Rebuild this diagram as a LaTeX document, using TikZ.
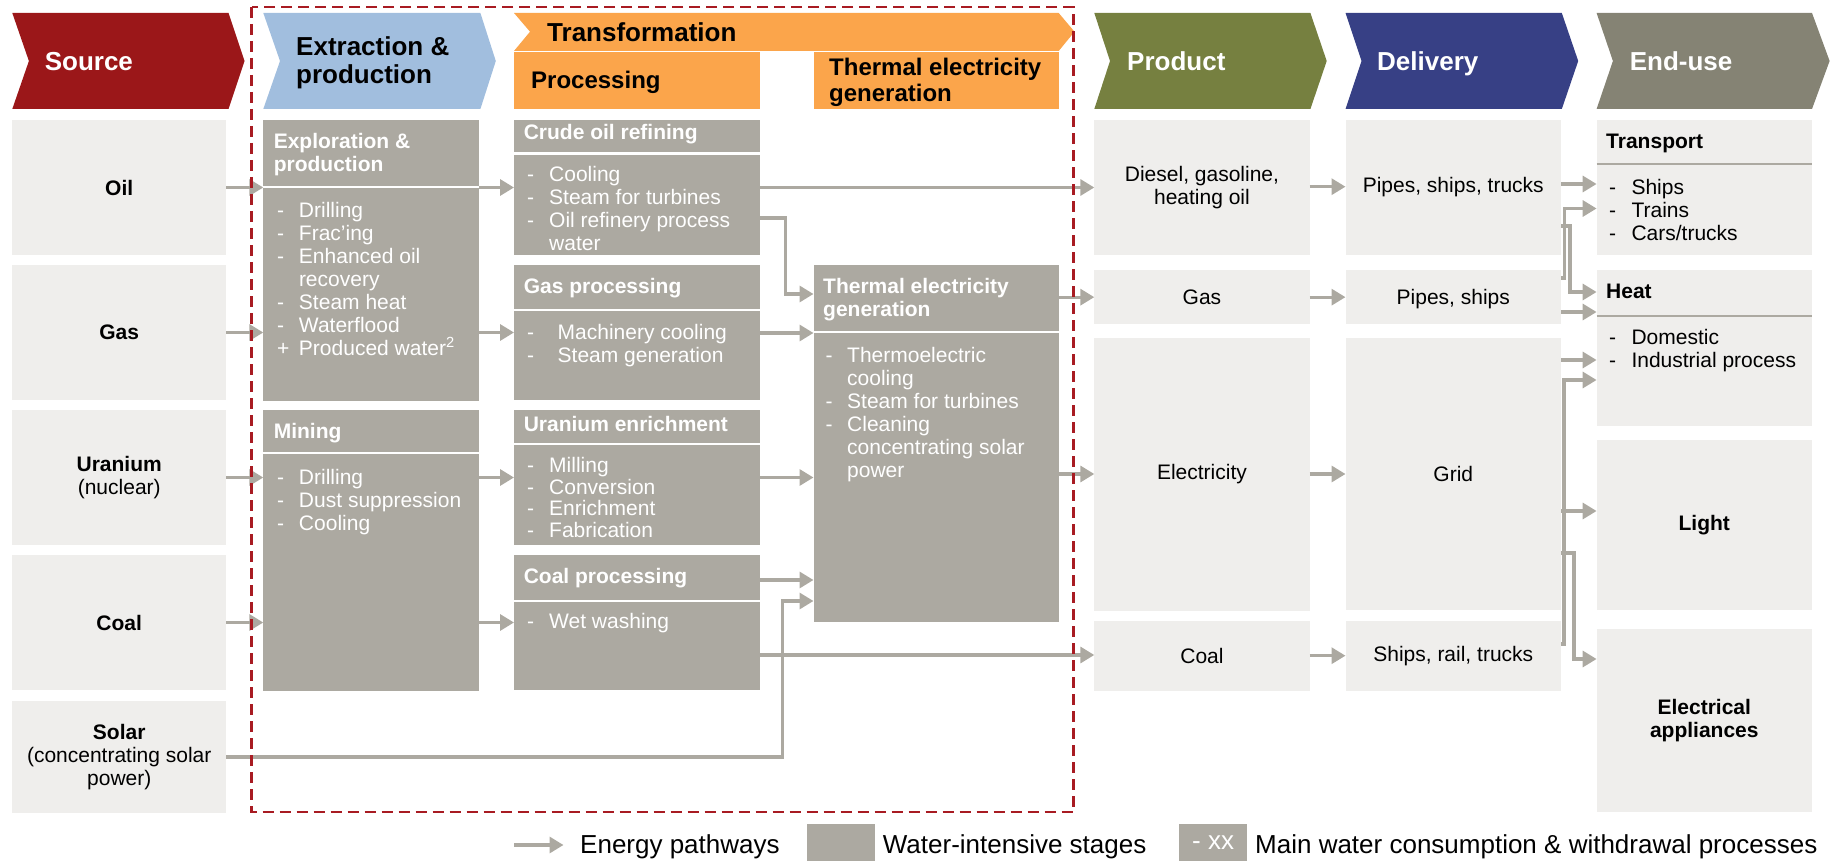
\documentclass[tikz,border=0pt]{standalone}
\usepackage{fontspec}
\setmainfont{Liberation Sans}
\usetikzlibrary{arrows.meta}
\definecolor{srcred}{HTML}{9B1719}
\definecolor{extblue}{HTML}{A1BEDE}
\definecolor{trorange}{HTML}{FBA54B}
\definecolor{olive}{HTML}{768040}
\definecolor{navy}{HTML}{374085}
\definecolor{eugray}{HTML}{858374}
\definecolor{graybox}{HTML}{ACA9A1}
\definecolor{lightbg}{HTML}{EFEEEC}
\definecolor{arrgray}{HTML}{ACA9A1}
\definecolor{dashred}{HTML}{A81B22}
\newcommand\fbody{\fontsize{21}{23}\selectfont}
\newcommand\fhead{\fontsize{26}{28}\selectfont}
\newcommand\fsub{\fontsize{24}{26}\selectfont}
\newcommand\fleg{\fontsize{26}{28}\selectfont}
\newcommand\itm[2][22]{\makebox[#1pt][l]{-}#2}
\newcommand\cnt[2][22]{\hspace*{#1pt}#2}
\newcommand\pls[2][22]{\makebox[#1pt][l]{+}#2}
\begin{document}
\begin{tikzpicture}[x=1pt,y=-1pt,
  lbox/.style={fill=lightbg, anchor=north west, inner sep=0, outer sep=0, align=center, font=\fbody, text=black},
  gbox/.style={fill=graybox, anchor=north west, inner sep=0, outer sep=0},
  gtitle/.style={anchor=west, inner sep=0, align=left, text=white, font=\fbody\bfseries},
  glist/.style={anchor=north west, inner sep=0, align=left, text=white, font=\fbody},
  blist/.style={glist, text=black},
  btitle/.style={gtitle, text=black},
  htitle/.style={anchor=west, inner sep=0, align=left, font=\fhead\bfseries},
  wtitle/.style={anchor=base west, inner sep=0, font=\fhead\bfseries, text=white},
  arr/.style={draw=arrgray, line width=3.3pt, -{Triangle[length=14pt,width=16pt]}},
  wdiv/.style={draw=white, line width=2.5pt},
  gdiv/.style={draw=graybox, line width=2.5pt},
  legtext/.style={anchor=west, inner sep=0, font=\fleg},
]
\useasboundingbox (0,0) rectangle (1841,861);
% ---------- chevrons ----------
\fill[srcred] (12.3,13) -- (228.5,13) -- (244.5,61) -- (228.5,109) -- (12.3,109) -- (28.9,61) -- cycle;
\fill[extblue] (263.3,13) -- (480.4,13) -- (495.8,61) -- (480.4,109) -- (263.3,109) -- (280,61) -- cycle;
\fill[trorange] (514,13) -- (1058.7,13) -- (1074.5,31.7) -- (1058.7,51) -- (514,51) -- (530,31.7) -- cycle;
\fill[trorange] (514,52) rectangle (760,109);
\fill[trorange] (813.5,52) rectangle (1058.7,109);
\fill[olive] (1094.3,13) -- (1310.4,13) -- (1326.7,61) -- (1310.4,109) -- (1094.3,109) -- (1110,61) -- cycle;
\fill[navy] (1345.5,13) -- (1561.8,13) -- (1578.2,61) -- (1561.8,109) -- (1345.5,109) -- (1361.5,61) -- cycle;
\fill[eugray] (1596.6,13) -- (1812,13) -- (1829.6,61) -- (1812,109) -- (1596.6,109) -- (1612.9,61) -- cycle;
\node[wtitle] (hsrc) at (44.6,70.5) {Source};
\node[htitle, text=black] (hext) at (296,63) {Extraction \&\\production};
\node[htitle, text=black] (htrans) at (547,32) {Transformation};
\node[htitle, text=black, font=\fsub\bfseries] (hproc) at (531,82) {Processing};
\node[htitle, text=black, font=\fsub\bfseries] (hthermo) at (829,82.5) {Thermal electricity\\generation};
\node[wtitle] (hprod) at (1127,70.5) {Product};
\node[wtitle] (hdel) at (1377,70.5) {Delivery};
\node[wtitle] (hend) at (1629.6,70.5) {End-use};
% ---------- source column ----------
\node[lbox, minimum width=213.9, minimum height=135] (oil) at (12.3,120) {\textbf{Oil}};
\node[lbox, minimum width=213.9, minimum height=135] (gas) at (12.3,265) {\textbf{Gas}};
\node[lbox, minimum width=213.9, minimum height=135] (uran) at (12.3,410) {\textbf{Uranium}\\(nuclear)};
\node[lbox, minimum width=213.9, minimum height=135] (coalsrc) at (12.3,555) {\textbf{Coal}};
\node[lbox, minimum width=213.9, minimum height=112] (solar) at (12.3,701) {\textbf{Solar}\\(concentrating solar\\power)};
% ---------- extraction column ----------
\node[gbox, minimum width=215.5, minimum height=281] (expl) at (263.3,120) {};
\node[gbox, minimum width=215.5, minimum height=280.7] (mining) at (263.3,410) {};
\draw[wdiv] (expl.west |- 0,187) -- (expl.east |- 0,187);
\draw[wdiv] (mining.west |- 0,453) -- (mining.east |- 0,453);
\node[gtitle] (explt) at (273.6,155) {Exploration \&\\production};
\node[glist] (expll) at (276.8,202) {\itm{Drilling}\\\itm{Frac’ing}\\\itm{Enhanced oil}\\\cnt{recovery}\\\itm{Steam heat}\\\itm{Waterflood}\\\pls{Produced water\textsuperscript{2}}};
\node[gtitle] (miningt) at (273.6,433.5) {Mining};
\node[glist] (miningl) at (276.8,469) {\itm{Drilling}\\\itm{Dust suppression}\\\itm{Cooling}};
% ---------- processing column ----------
\node[gbox, minimum width=246, minimum height=135] (crude) at (514,120) {};
\node[gbox, minimum width=246, minimum height=135] (gasproc) at (514,265) {};
\node[gbox, minimum width=246, minimum height=135] (uenr) at (514,410) {};
\node[gbox, minimum width=246, minimum height=135] (coalproc) at (514,555) {};
\draw[wdiv] (crude.west |- 0,153.5) -- (crude.east |- 0,153.5);
\draw[wdiv] (gasproc.west |- 0,310) -- (gasproc.east |- 0,310);
\draw[wdiv] (uenr.west |- 0,444) -- (uenr.east |- 0,444);
\draw[wdiv] (coalproc.west |- 0,601) -- (coalproc.east |- 0,601);
\node[gtitle] (crudet) at (523.6,134) {Crude oil refining};
\node[glist] (crudel) at (527,166) {\itm{Cooling}\\\itm{Steam for turbines}\\\itm{Oil refinery process}\\\cnt{water}};
\node[gtitle] (gasproct) at (523.6,287.8) {Gas processing};
\node[glist] (gasprocl) at (527,324) {\itm[30.5]{Machinery cooling}\\\itm[30.5]{Steam generation}};
\node[gtitle] (uenrt) at (523.6,423.5) {Uranium enrichment};
\node[glist, font=\fontsize{21}{21.6}\selectfont] (uenrl) at (527,457) {\itm{Milling}\\\itm{Conversion}\\\itm{Enrichment}\\\itm{Fabrication}};
\node[gtitle] (coalproct) at (523.6,577.8) {Coal processing};
\node[glist] (coalprocl) at (527,613) {\itm{Wet washing}};
% ---------- thermal ----------
\node[gbox, minimum width=245.2, minimum height=356.7] (thermal) at (813.5,265) {};
\draw[wdiv] (thermal.west |- 0,332) -- (thermal.east |- 0,332);
\node[gtitle] (thermalt) at (823,299.5) {Thermal electricity\\generation};
\node[glist] (thermall) at (825.4,347) {\itm[21.6]{Thermoelectric}\\\cnt[21.6]{cooling}\\\itm[21.6]{Steam for turbines}\\\itm[21.6]{Cleaning}\\\cnt[21.6]{concentrating solar}\\\cnt[21.6]{power}};
% ---------- product ----------
\node[lbox, minimum width=215.3, minimum height=135] (diesel) at (1094.3,120) {Diesel, gasoline,\\heating oil};
\node[lbox, minimum width=215.3, minimum height=54.3] (gasprod) at (1094.3,270) {Gas};
\node[lbox, minimum width=215.3, minimum height=272.7] (elec) at (1094.3,338) {Electricity};
\node[lbox, minimum width=215.3, minimum height=69.7] (coalprod) at (1094.3,621) {Coal};
% ---------- delivery ----------
\node[lbox, minimum width=215.5, minimum height=135] (pst) at (1345.5,120) {Pipes, ships, trucks};
\node[lbox, minimum width=215.5, minimum height=54.3, text depth=0pt] (ps) at (1345.5,270) {Pipes, ships};
\node[lbox, minimum width=215.5, minimum height=272.3] (grid) at (1345.5,338) {Grid};
\node[lbox, minimum width=215.5, minimum height=70] (srt) at (1345.5,621) {Ships, rail, trucks};
% ---------- end-use ----------
\node[lbox, minimum width=215.4, minimum height=135] (transport) at (1596.6,120) {};
\node[lbox, minimum width=215.4, minimum height=155.7] (heat) at (1596.6,270) {};
\node[lbox, minimum width=215.4, minimum height=170] (light) at (1596.6,440) {\textbf{Light}};
\node[lbox, minimum width=215.4, minimum height=182.7] (app) at (1596.6,629) {\textbf{Electrical}\\\textbf{appliances}};
\draw[gdiv] (transport.west |- 0,164) -- (transport.east |- 0,164);
\draw[gdiv] (heat.west |- 0,316) -- (heat.east |- 0,316);
\node[btitle] (transportt) at (1606,143) {Transport};
\node[blist] (transportl) at (1608.8,179) {\itm[22.5]{Ships}\\\itm[22.5]{Trains}\\\itm[22.5]{Cars/trucks}};
\node[btitle] (heatt) at (1606,291.5) {Heat};
\node[blist] (heatl) at (1608.8,329) {\itm[22.5]{Domestic}\\\itm[22.5]{Industrial process}};
% ---------- connectors ----------
\draw[arr] (oil.east) -- (expl.west |- oil.east);
\draw[arr] (gas.east) -- (expl.west |- gas.east);
\draw[arr] (uran.east) -- (mining.west |- uran.east);
\draw[arr] (coalsrc.east) -- (mining.west |- coalsrc.east);
\draw[arr] (expl.east |- oil.east) -- (crude.west |- oil.east);
\draw[arr] (expl.east |- gas.east) -- (gasproc.west |- gas.east);
\draw[arr] (mining.east |- uran.east) -- (uenr.west |- uran.east);
\draw[arr] (mining.east |- coalsrc.east) -- (coalproc.west |- coalsrc.east);
\draw[arr] (crude.east |- oil.east) -- (diesel.west |- oil.east);
\draw[arr] (crude.east |- 0,218) -- ++(25.8,0) |- (thermal.west |- 0,294);
\draw[arr] (gasproc.east |- 0,333) -- (thermal.west |- 0,333);
\draw[arr] (uenr.east |- 0,477.5) -- (thermal.west |- 0,477.5);
\draw[arr] (coalproc.east |- 0,580) -- (thermal.west |- 0,580);
\draw[arr] (coalproc.east |- 0,655) -- (coalprod.west |- 0,655);
\draw[arr] (solar.east) -- ++(556.5,0) |- (thermal.west |- 0,601);
\draw[arr] (thermal.east |- gasprod.west) -- (gasprod.west);
\draw[arr] (thermal.east |- 0,474) -- (elec.west |- 0,474);
\draw[arr] (diesel.east |- 0,186.7) -- (pst.west |- 0,186.7);
\draw[arr] (gasprod.east) -- (ps.west |- gasprod.east);
\draw[arr] (elec.east |- 0,474) -- (grid.west |- 0,474);
\draw[arr] (coalprod.east |- 0,655.7) -- (srt.west |- 0,655.7);
\draw[arr] (pst.east |- 0,184) -- (transport.west |- 0,184);
\draw[arr] (ps.east |- 0,278) -- ++(3.5,0) |- (transport.west |- 0,208.5);
\draw[arr] (pst.east |- 0,226) -- ++(9,0) |- (heat.west |- 0,292);
\draw[arr] (ps.east |- 0,312) -- (heat.west |- 0,312);
\draw[arr] (grid.east |- 0,360) -- (heat.west |- 0,360);
\draw[arr] (srt.east |- 0,644) -- ++(3,0) |- (heat.west |- 0,380);
\draw[arr] (grid.east |- 0,511) -- (light.west |- 0,511);
\draw[arr] (grid.east |- 0,553) -- ++(13,0) |- (app.west |- 0,659);
% ---------- dashed frame ----------
\draw[draw=dashred, line width=2.8pt, dash pattern=on 11pt off 6pt] (251.5,7) rectangle (1073.3,812);
% ---------- legend ----------
\coordinate (la1) at (514,845);
\coordinate (la2) at (563.5,845);
\draw[arr] (la1) -- (la2);
\node[legtext] (leg1) at (580,847) {Energy pathways};
\node[gbox, minimum width=67.8, minimum height=37] (legbox1) at (807,824) {};
\node[legtext] (leg2) at (882.7,847) {Water-intensive stages};
\node[gbox, minimum width=67.7, minimum height=37, text=white, font=\fleg] (legbox2) at (1179.3,824) {- xx};
\node[legtext] (leg3) at (1255,847) {Main water consumption \& withdrawal processes};
\end{tikzpicture}
\end{document}
